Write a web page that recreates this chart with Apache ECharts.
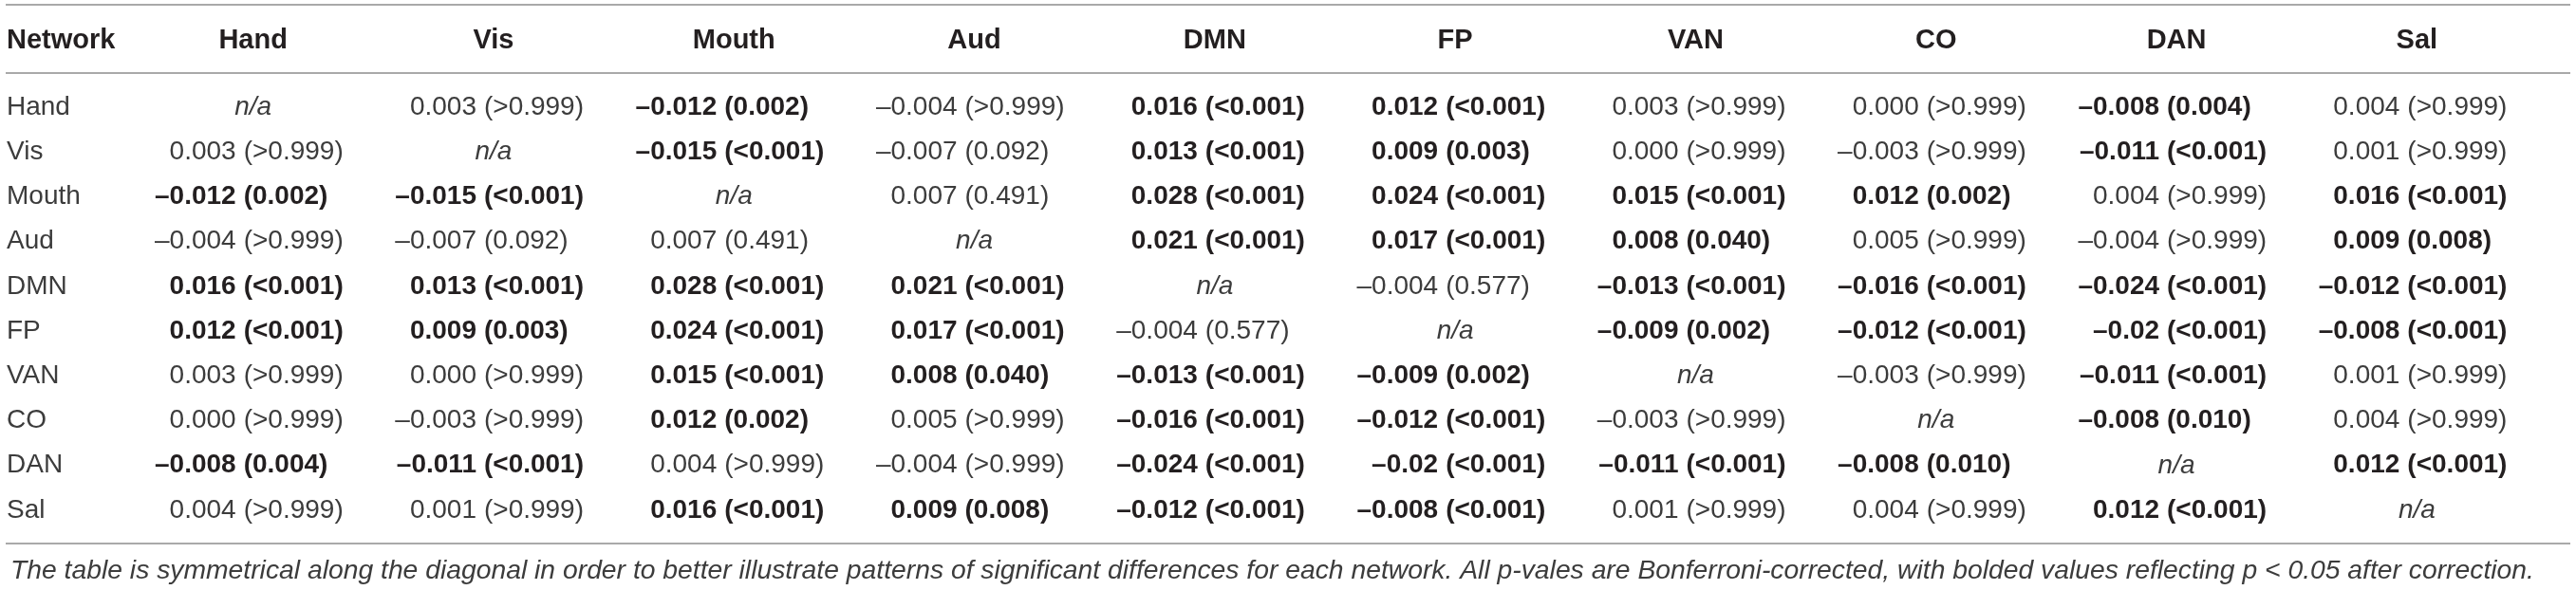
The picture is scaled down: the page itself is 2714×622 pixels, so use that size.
<!DOCTYPE html>
<html>
<head>
<meta charset="utf-8">
<script src="https://cdn.jsdelivr.net/npm/echarts@6/dist/echarts.min.js"></script>
<style>
  html, body { margin: 0; padding: 0; background: #fff; }
  #main { width: 2714px; height: 622px; }
</style>
</head>
<body>
<div id="main"></div>
<script>
// network names, used for both the columns and the rows
var networks = ['Hand', 'Vis', 'Mouth', 'Aud', 'DMN', 'FP', 'VAN', 'CO', 'DAN', 'Sal'];

// mean differences, row network vs column network (null = diagonal)
var diffHand  = [null, '0.003', '–0.012', '–0.004', '0.016', '0.012', '0.003', '0.000', '–0.008', '0.004'];
var diffVis   = ['0.003', null, '–0.015', '–0.007', '0.013', '0.009', '0.000', '–0.003', '–0.011', '0.001'];
var diffMouth = ['–0.012', '–0.015', null, '0.007', '0.028', '0.024', '0.015', '0.012', '0.004', '0.016'];
var diffAud   = ['–0.004', '–0.007', '0.007', null, '0.021', '0.017', '0.008', '0.005', '–0.004', '0.009'];
var diffDMN   = ['0.016', '0.013', '0.028', '0.021', null, '–0.004', '–0.013', '–0.016', '–0.024', '–0.012'];
var diffFP    = ['0.012', '0.009', '0.024', '0.017', '–0.004', null, '–0.009', '–0.012', '–0.02', '–0.008'];
var diffVAN   = ['0.003', '0.000', '0.015', '0.008', '–0.013', '–0.009', null, '–0.003', '–0.011', '0.001'];
var diffCO    = ['0.000', '–0.003', '0.012', '0.005', '–0.016', '–0.012', '–0.003', null, '–0.008', '0.004'];
var diffDAN   = ['–0.008', '–0.011', '0.004', '–0.004', '–0.024', '–0.02', '–0.011', '–0.008', null, '0.012'];
var diffSal   = ['0.004', '0.001', '0.016', '0.009', '–0.012', '–0.008', '0.001', '0.004', '0.012', null];

// Bonferroni-corrected p-values, same layout
var pHand  = [null, '>0.999', '0.002', '>0.999', '<0.001', '<0.001', '>0.999', '>0.999', '0.004', '>0.999'];
var pVis   = ['>0.999', null, '<0.001', '0.092', '<0.001', '0.003', '>0.999', '>0.999', '<0.001', '>0.999'];
var pMouth = ['0.002', '<0.001', null, '0.491', '<0.001', '<0.001', '<0.001', '0.002', '>0.999', '<0.001'];
var pAud   = ['>0.999', '0.092', '0.491', null, '<0.001', '<0.001', '0.040', '>0.999', '>0.999', '0.008'];
var pDMN   = ['<0.001', '<0.001', '<0.001', '<0.001', null, '0.577', '<0.001', '<0.001', '<0.001', '<0.001'];
var pFP    = ['<0.001', '0.003', '<0.001', '<0.001', '0.577', null, '0.002', '<0.001', '<0.001', '<0.001'];
var pVAN   = ['>0.999', '>0.999', '<0.001', '0.040', '<0.001', '0.002', null, '>0.999', '<0.001', '>0.999'];
var pCO    = ['>0.999', '>0.999', '0.002', '>0.999', '<0.001', '<0.001', '>0.999', null, '0.010', '>0.999'];
var pDAN   = ['0.004', '<0.001', '>0.999', '>0.999', '<0.001', '<0.001', '<0.001', '0.010', null, '<0.001'];
var pSal   = ['>0.999', '>0.999', '<0.001', '0.008', '<0.001', '<0.001', '>0.999', '>0.999', '<0.001', null];

var diffRows = [diffHand, diffVis, diffMouth, diffAud, diffDMN, diffFP, diffVAN, diffCO, diffDAN, diffSal];
var pRows = [pHand, pVis, pMouth, pAud, pDMN, pFP, pVAN, pCO, pDAN, pSal];

var caption = 'The table is symmetrical along the diagonal in order to better illustrate patterns of significant differences for each network. All p-vales are Bonferroni-corrected, with bolded values reflecting p < 0.05 after correction.';

var FONT = '"Liberation Sans", Arial, Helvetica, sans-serif';
var INK = '#231f20';
var LIGHT = '#3c3c3c';
var RULE = '#a9a9a9';

// significant when p < 0.05
function isSig(p) {
	if (p.charAt(0) == '<') return true;
	if (p.charAt(0) == '>') return false;
	return parseFloat(p) < 0.05;
}

var cells = [];
for (var r = 0; r < networks.length; r++) {
	for (var c = 0; c < networks.length; c++) {
		cells.push([c, r, diffRows[r][c], pRows[r][c]]);
	}
}

var chart = echarts.init(document.getElementById('main'));

var option = {
	backgroundColor: '#fff',
	animation: false,
	title: {
		text: caption,
		left: 6,
		top: 583,
		textStyle: {
			fontFamily: FONT,
			fontSize: 28.3,
			fontStyle: 'italic',
			fontWeight: 'normal',
			color: LIGHT
		}
	},
	grid: { left: 140, right: 41, top: 89.4, bottom: 60.4 },
	xAxis: {
		type: 'category',
		position: 'top',
		data: networks,
		axisLine: { show: false },
		axisTick: { show: false },
		splitLine: { show: false },
		axisLabel: {
			margin: 46,
			verticalAlign: 'middle',
			fontFamily: FONT,
			fontSize: 29,
			fontWeight: 'bold',
			color: INK
		}
	},
	yAxis: {
		type: 'category',
		inverse: true,
		data: networks,
		axisLine: { show: false },
		axisTick: { show: false },
		splitLine: { show: false },
		axisLabel: {
			margin: 133,
			align: 'left',
			fontFamily: FONT,
			fontSize: 28,
			color: LIGHT
		}
	},
	graphic: [
		{ type: 'line', shape: { x1: 6, y1: 5, x2: 2708, y2: 5 }, style: { stroke: RULE, lineWidth: 2 } },
		{ type: 'line', shape: { x1: 6, y1: 77, x2: 2708, y2: 77 }, style: { stroke: RULE, lineWidth: 2 } },
		{ type: 'line', shape: { x1: 6, y1: 573, x2: 2708, y2: 573 }, style: { stroke: RULE, lineWidth: 2 } },
		// header "Network" sits in the row-label column
		{ type: 'text', style: { x: 7, y: 43, text: 'Network', fontFamily: FONT, fontSize: 29, fontWeight: 'bold', fill: INK, verticalAlign: 'middle' } }
	],
	series: [{
		type: 'custom',
		data: cells,
		encode: { x: 0, y: 1 },
		renderItem: function(params, api) {
			var cell = cells[params.dataIndex];
			var pt = api.coord([cell[0], cell[1]]);
			if (cell[2] == null) {
				return {
					type: 'text',
					style: {
						x: pt[0], y: pt[1], text: 'n/a',
						fontFamily: FONT, fontSize: 28, fontStyle: 'italic',
						fill: LIGHT, align: 'center', verticalAlign: 'middle'
					}
				};
			}
			var bold = isSig(cell[3]);
			var base = {
				fontFamily: FONT, fontSize: 28,
				fontWeight: bold ? 'bold' : 'normal',
				fill: bold ? INK : LIGHT,
				verticalAlign: 'middle'
			};
			// align on the opening bracket, a little left of the column centre
			var anchor = pt[0] - 10;
			return {
				type: 'group',
				children: [
					{ type: 'text', style: echarts.util.extend({ x: anchor - 8, y: pt[1], text: cell[2], align: 'right' }, base) },
					{ type: 'text', style: echarts.util.extend({ x: anchor, y: pt[1], text: '(' + cell[3] + ')', align: 'left' }, base) }
				]
			};
		}
	}]
};

chart.setOption(option);
</script>
</body>
</html>
